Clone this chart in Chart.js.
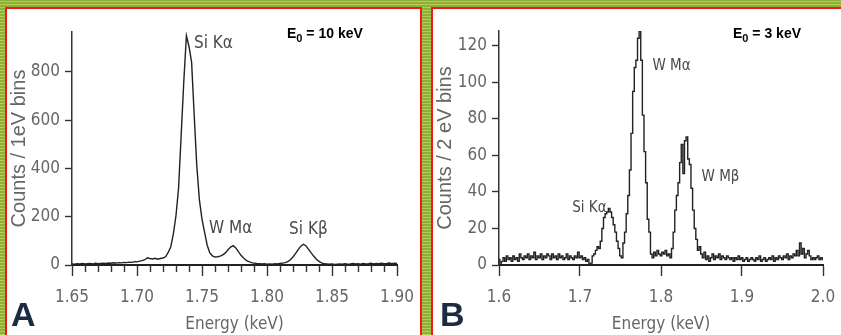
<!DOCTYPE html>
<html><head><meta charset="utf-8">
<script src="https://cdn.jsdelivr.net/npm/chart.js@4.4.1/dist/chart.umd.min.js"></script>
<style>
html,body{margin:0;padding:0;width:841px;height:335px;overflow:hidden;}
body{position:relative;background-color:#8eb03a;background-image:repeating-linear-gradient(0deg, rgba(210,220,105,0.6) 0 1px, rgba(0,0,0,0) 1px 3px);}
.panel{position:absolute;top:7px;background:#fff;border:2px solid #ee1b1b;box-sizing:border-box;}
#pa{left:5px;width:417px;height:340px;}
#pb{left:431px;width:420px;height:340px;}
canvas{position:absolute;top:9px;}
#ca{left:7px;}
#cb{left:433px;}
.lab{position:absolute;font:bold 34px "Liberation Sans",Arial,sans-serif;color:#1c2b42;top:297px;line-height:34px;}
.e0{position:absolute;font:bold 14px "Liberation Sans",Arial,sans-serif;color:#000;top:25px;white-space:nowrap;}
.e0 sub{font-size:11px;vertical-align:-4px;line-height:0;}
</style></head><body>
<div class="panel" id="pa"></div>
<div class="panel" id="pb"></div>
<canvas id="ca" width="420" height="326"></canvas>
<canvas id="cb" width="416" height="326"></canvas>
<div class="lab" style="left:11px">A</div>
<div class="lab" style="left:440px">B</div>
<div class="e0" style="left:287px">E<sub>0</sub> = 10 keV</div>
<div class="e0" style="left:733px">E<sub>0</sub> = 3 keV</div>
<script>
// ---- Panel A data (Energy keV, counts per 1 eV bin) ----
const energyA = [1.650,1.652,1.654,1.656,1.658,1.660,1.662,1.664,1.666,1.668,1.670,1.672,1.674,1.676,1.678,1.680,1.682,1.684,1.686,1.688,
1.690,1.692,1.694,1.696,1.698,1.700,1.702,1.704,1.706,1.708,1.710,1.712,1.714,1.716,1.718,1.720,1.722,1.724,1.726,1.728,
1.730,1.732,1.734,1.736,1.738,1.740,1.742,1.744,1.746,1.748,1.750,1.752,1.754,1.756,1.758,1.760,1.762,1.764,1.766,1.768,
1.770,1.772,1.774,1.776,1.778,1.780,1.782,1.784,1.786,1.788,1.790,1.792,1.794,1.796,1.798,1.800,1.802,1.804,1.806,1.808,
1.810,1.812,1.814,1.816,1.818,1.820,1.822,1.824,1.826,1.828,1.830,1.832,1.834,1.836,1.838,1.840,1.842,1.844,1.846,1.848,
1.850,1.852,1.854,1.856,1.858,1.860,1.862,1.864,1.866,1.868,1.870,1.872,1.874,1.876,1.878,1.880,1.882,1.884,1.886,1.888,
1.890,1.892,1.894,1.896,1.898,1.900];
const countsA = [4,3,5,4,6,4,5,6,4,7,5,6,7,6,8,7,9,8,10,9,
11,10,12,11,14,13,16,18,22,30,27,25,28,24,27,29,34,52,75,130,
205,320,540,760,950,905,840,620,410,270,190,135,82,50,38,33,34,37,42,50,
63,74,80,71,55,40,29,19,14,10,8,6,5,4,5,3,4,3,5,4,
6,8,10,14,22,33,48,64,78,86,79,65,50,36,24,15,9,5,4,3,
4,2,3,4,3,5,3,4,6,4,5,3,6,4,5,7,4,6,5,7,
5,6,8,5,7,6];
const xTicksA = [1.65,1.70,1.75,1.80,1.85,1.90];
const yTicksA = [0,200,400,600,800];

// ---- Panel B data (Energy keV, counts per 2 eV bin) ----
const energyB = [1.600,1.602,1.604,1.606,1.608,1.610,1.612,1.614,1.616,1.618,1.620,1.622,1.624,1.626,1.628,1.630,1.632,1.634,1.636,1.638,
1.640,1.642,1.644,1.646,1.648,1.650,1.652,1.654,1.656,1.658,1.660,1.662,1.664,1.666,1.668,1.670,1.672,1.674,1.676,1.678,
1.680,1.682,1.684,1.686,1.688,1.690,1.692,1.694,1.696,1.698,1.700,1.702,1.704,1.706,1.708,1.710,1.712,1.714,1.716,1.718,
1.720,1.722,1.724,1.726,1.728,1.730,1.732,1.734,1.736,1.738,1.740,1.742,1.744,1.746,1.748,1.750,1.752,1.754,1.756,1.758,
1.760,1.762,1.764,1.766,1.768,1.770,1.772,1.774,1.776,1.778,1.780,1.782,1.784,1.786,1.788,1.790,1.792,1.794,1.796,1.798,
1.800,1.802,1.804,1.806,1.808,1.810,1.812,1.814,1.816,1.818,1.820,1.822,1.824,1.826,1.828,1.830,1.832,1.834,1.836,1.838,
1.840,1.842,1.844,1.846,1.848,1.850,1.852,1.854,1.856,1.858,1.860,1.862,1.864,1.866,1.868,1.870,1.872,1.874,1.876,1.878,
1.880,1.882,1.884,1.886,1.888,1.890,1.892,1.894,1.896,1.898,1.900,1.902,1.904,1.906,1.908,1.910,1.912,1.914,1.916,1.918,
1.920,1.922,1.924,1.926,1.928,1.930,1.932,1.934,1.936,1.938,1.940,1.942,1.944,1.946,1.948,1.950,1.952,1.954,1.956,1.958,
1.960,1.962,1.964,1.966,1.968,1.970,1.972,1.974,1.976,1.978,1.980,1.982,1.984,1.986,1.988,1.990,1.992,1.994,1.996,1.998,
2.000];
const countsB = [3,1,2,4,2,5,3,4,2,5,3,4,2,6,4,3,5,4,6,3,
5,4,7,3,5,4,6,3,5,4,6,5,3,6,4,5,3,6,4,5,
3,4,6,3,5,4,3,5,4,7,4,5,3,4,2,3,0,1,5,6,
8,10,9,13,20,26,28,29,31,29,26,22,18,13,9,5,4,12,18,28,
38,52,72,95,108,112,124,128,112,82,62,45,25,18,6,4,7,5,8,6,
5,7,6,8,5,6,4,9,18,30,38,45,56,66,50,68,70,58,55,42,
30,20,14,8,10,6,4,7,3,5,2,4,6,3,5,4,6,3,5,4,
3,5,4,3,4,2,4,3,5,3,4,2,3,4,2,3,4,3,2,4,
3,5,2,3,4,2,3,4,3,5,2,4,3,5,4,3,5,4,6,3,
5,4,6,5,8,5,12,6,9,4,6,8,5,3,4,3,4,5,3,4,
3];
const xTicksB = [1.6,1.7,1.8,1.9,2.0];
const yTicksB = [0,20,40,60,80,100,120];

const NARROW = '"Liberation Sans Narrow","DejaVu Sans Condensed","Arial Narrow",sans-serif';
const ARIAL = '"Liberation Sans",Arial,sans-serif';

const textPlugin = {
  id: 'peakLabels',
  afterDatasetsDraw(chart, args, opts) {
    const ctx = chart.ctx, xs = chart.scales.x, ys = chart.scales.y;
    ctx.save();
    ctx.fillStyle = opts.color;
    ctx.font = opts.size + 'px ' + NARROW;
    ctx.textBaseline = 'middle';
    ctx.textAlign = 'left';
    (opts.items || []).forEach(it => {
      ctx.fillText(it.text, xs.getPixelForValue(it.x), ys.getPixelForValue(it.y));
    });
    ctx.restore();
  }
};

const minorTicks = {
  id: 'minorTicks',
  afterDraw(chart, args, opts) {
    if (!opts.values) return;
    const ctx = chart.ctx, xs = chart.scales.x;
    const y0 = chart.chartArea.bottom;
    ctx.save();
    ctx.strokeStyle = '#333';
    ctx.lineWidth = 1.4;
    opts.values.forEach(v => {
      const px = Math.round(xs.getPixelForValue(v)) + 0.5;
      ctx.beginPath(); ctx.moveTo(px, y0); ctx.lineTo(px, y0 + opts.len); ctx.stroke();
    });
    ctx.restore();
  }
};

function build(id, xs, ys, cfg) {
  const pts = xs.map((x, i) => ({x: x, y: ys[i]}));
  return new Chart(document.getElementById(id), {
    type: 'line',
    data: { datasets: [{ data: pts, borderColor: '#222', borderWidth: 1.4, pointRadius: 0, tension: 0, fill: false, stepped: cfg.stepped || false }] },
    plugins: [textPlugin, minorTicks],
    options: {
      responsive: false, animation: false, events: [],
      layout: { padding: { top: cfg.padTop, right: cfg.padRight, left: 0, bottom: 0 } },
      plugins: {
        legend: { display: false }, tooltip: { enabled: false },
        peakLabels: { items: cfg.labels, size: cfg.labelSize, color: '#4a4a4a' },
        minorTicks: { values: cfg.minor, len: 7 }
      },
      scales: {
        x: {
          type: 'linear', min: cfg.xTicks[0], max: cfg.xTicks[cfg.xTicks.length - 1],
          afterBuildTicks: s => { s.ticks = cfg.xTicks.map(v => ({ value: v })); },
          afterFit: s => { s.height = 70; },
          ticks: { callback: v => v.toFixed(cfg.xDec), color: '#666', font: { family: NARROW, size: 17 }, padding: 11, maxRotation: 0, autoSkip: false },
          grid: { drawOnChartArea: false, drawTicks: true, tickLength: 11, tickColor: '#333', tickWidth: 1.4 },
          border: { display: true, color: '#222', width: 2 },
          title: { display: true, text: 'Energy (keV)', color: '#666', font: { family: NARROW, size: 17 }, padding: { top: 0, bottom: 0 } }
        },
        y: {
          type: 'linear', min: 0, max: cfg.yMax,
          afterBuildTicks: s => { s.ticks = cfg.yTicks.map(v => ({ value: v })); },
          afterFit: s => { s.width = cfg.yWidth; },
          ticks: { color: '#666', font: { family: NARROW, size: 17 }, padding: 5, autoSkip: false },
          grid: { drawOnChartArea: false, drawTicks: true, tickLength: 7, tickColor: '#333', tickWidth: 1.4 },
          border: { display: true, color: '#333', width: 1.5 },
          title: { display: true, text: cfg.yTitle, color: '#666', font: { family: ARIAL, size: 20 }, padding: { top: 0, bottom: 0 } }
        }
      }
    }
  });
}

const minorA = [1.66,1.67,1.68,1.69,1.71,1.72,1.73,1.74,1.76,1.77,1.78,1.79,1.81,1.82,1.83,1.84,1.86,1.87,1.88,1.89];

build('ca', energyA, countsA, {
  xTicks: xTicksA, yTicks: yTicksA, yMax: 965, xDec: 2, yWidth: 65, padTop: 23, padRight: 30,
  yTitle: 'Counts / 1eV bins', minor: minorA, labelSize: 17,
  labels: [
    { text: 'Si K\u03b1', x: 1.7438, y: 915 },
    { text: 'W M\u03b1', x: 1.7554, y: 149 },
    { text: 'Si K\u03b2', x: 1.8170, y: 145 }
  ]
});
build('cb', energyB, countsB, {
  xTicks: xTicksB, yTicks: yTicksB, yMax: 128, xDec: 1, yWidth: 66, padTop: 22, padRight: 26,
  yTitle: 'Counts / 2 eV bins', minor: null, labelSize: 15, stepped: 'middle',
  labels: [
    { text: 'Si K\u03b1', x: 1.6904, y: 31 },
    { text: 'W M\u03b1', x: 1.7895, y: 109 },
    { text: 'W M\u03b2', x: 1.8500, y: 48 }
  ]
});
</script>
</body></html>
